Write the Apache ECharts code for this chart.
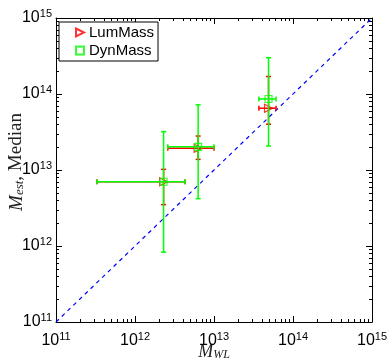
<!DOCTYPE html>
<html><head><meta charset="utf-8">
<script src="https://cdn.jsdelivr.net/npm/echarts@6/dist/echarts.min.js"></script>
<style>html,body{margin:0;padding:0;background:#fff}#c{width:388px;height:360px}</style>
</head><body><div id="c"></div>
<script>
// Data
const wlMass = [2.3e12, 6.3e12, 4.9e13];
const wlLo   = [3.3e11, 2.6e12, 3.7e13];
const wlHi   = [4.3e12, 1.0e13, 6.1e13];
const lumEst = [7.0e12, 1.93e13, 6.5e13];
const lumLo  = [3.5e12, 1.38e13, 4.0e13];
const lumHi  = [1.02e13, 2.8e13, 1.7e14];
const dynEst = [7.0e12, 2.02e13, 8.6e13];
const dynLo  = [8.3e11, 4.2e12, 2.07e13];
const dynHi  = [3.2e13, 7.2e13, 3.0e14];
const axisMin = 1e11, axisMax = 1e15;
const seriesNames = ['LumMass', 'DynMass'];

const chart = echarts.init(document.getElementById('c'));
const FONT = 'Liberation Sans';
const SERIF = 'Liberation Serif';
function expLabel(v){ const e = Math.round(Math.log10(v)); return '{b|10}{s|' + e + '}'; }
const labelRich = { b:{fontSize:16, fontFamily:FONT, color:'#000'}, s:{fontSize:11, fontFamily:FONT, color:'#000', padding:[0,0,9,0]} };

function errSeries(name, est, lo, hi, color, z){
  const data = wlMass.map((x,i)=>[x, est[i], wlLo[i], wlHi[i], lo[i], hi[i]]);
  return {
    type:'custom', name: name + '_err', z: z, silent:true,
    data: data, encode:{x:0, y:1},
    renderItem: function(params, api){
      const x=api.value(0), y=api.value(1);
      const c=api.coord([x,y]);
      const xl=api.coord([api.value(2),y])[0], xh=api.coord([api.value(3),y])[0];
      const yl=api.coord([x,api.value(4)])[1], yh=api.coord([x,api.value(5)])[1];
      const st={stroke:color, lineWidth:1.5, fill:null};
      const cp=2.5;
      return {type:'group', children:[
        {type:'line', shape:{x1:xl,y1:c[1],x2:xh,y2:c[1]}, style:st},
        {type:'line', shape:{x1:c[0],y1:yl,x2:c[0],y2:yh}, style:st},
        {type:'line', shape:{x1:xl,y1:c[1]-cp,x2:xl,y2:c[1]+cp}, style:st},
        {type:'line', shape:{x1:xh,y1:c[1]-cp,x2:xh,y2:c[1]+cp}, style:st},
        {type:'line', shape:{x1:c[0]-cp,y1:yl,x2:c[0]+cp,y2:yl}, style:st},
        {type:'line', shape:{x1:c[0]-cp,y1:yh,x2:c[0]+cp,y2:yh}, style:st}
      ]};
    }
  };
}

// minor tick values
const minorVals = [];
for (let e=11; e<15; e++) for (let m=2; m<=9; m++) minorVals.push(m*Math.pow(10,e));

const option = {
  animation:false,
  grid:{left:56, right:16, top:18, bottom:38, show:false, containLabel:false, outerBoundsMode:'none'},
  legend:{
    left:59, top:22, orient:'vertical', padding:[3,4,3,16], itemGap:3,
    borderColor:'#000', borderWidth:1, backgroundColor:'#fff',
    itemWidth:8, itemHeight:8,
    textStyle:{fontSize:15, fontFamily:FONT, color:'#000'},
    data: seriesNames
  },
  xAxis:[{
    type:'log', logBase:10, min:axisMin, max:axisMax, gridIndex:0,
    axisLine:{show:true, onZero:false, lineStyle:{color:'#000', width:1}},
    axisTick:{show:true, inside:true, length:6, lineStyle:{color:'#000'}},
    splitLine:{show:false},
    axisLabel:{formatter:expLabel, rich:labelRich, margin:9, showMaxLabel:true, showMinLabel:true},
    name:'{i|M}{sub|WL}', nameLocation:'middle', nameGap:21, nameMoveOverlap:false,
    nameTextStyle:{rich:{i:{fontSize:18, fontFamily:SERIF, fontStyle:'italic', color:'#222'}, sub:{fontSize:12, fontFamily:SERIF, fontStyle:'italic', color:'#222', padding:[6,0,0,0]}}}
  },{
    type:'log', logBase:10, min:axisMin, max:axisMax, position:'top',
    axisLine:{show:true, onZero:false, lineStyle:{color:'#000'}},
    axisTick:{show:true, inside:true, length:6, lineStyle:{color:'#000'}},
    axisLabel:{show:false}, splitLine:{show:false}
  }],
  yAxis:[{
    type:'log', logBase:10, min:axisMin, max:axisMax,
    axisLine:{show:true, onZero:false, lineStyle:{color:'#000', width:1}},
    axisTick:{show:true, inside:true, length:6, lineStyle:{color:'#000'}},
    splitLine:{show:false},
    axisLabel:{formatter:expLabel, rich:labelRich, margin:4, showMaxLabel:true, showMinLabel:true},
    name:'{i|M}{sub|est}{r|, Median}', nameLocation:'middle', nameGap:30, nameRotate:90, nameMoveOverlap:false,
    nameTextStyle:{padding:[0,0,0,16], rich:{i:{fontSize:19, fontFamily:SERIF, fontStyle:'italic', color:'#222'}, sub:{fontSize:13, fontFamily:SERIF, fontStyle:'italic', color:'#222', padding:[6,0,0,0]}, r:{fontSize:19, fontFamily:SERIF, color:'#222'}}}
  },{
    type:'log', logBase:10, min:axisMin, max:axisMax, position:'right',
    axisLine:{show:true, onZero:false, lineStyle:{color:'#000'}},
    axisTick:{show:true, inside:true, length:6, lineStyle:{color:'#000'}},
    axisLabel:{show:false}, splitLine:{show:false}
  }],
  series:[
    {
      type:'line', name:'diag', data:[[axisMin,axisMin],[axisMax,axisMax]], symbol:'none', silent:true, z:1,
      lineStyle:{color:'#0000ff', width:1.2, type:[4,4]}
    },
    {
      type:'custom', name:'minor', silent:true, z:1, data:[[axisMin,axisMin]], encode:{x:0,y:1},
      renderItem:function(params, api){
        const cs=params.coordSys; const ch=[]; const L=3; const st={stroke:'#000', lineWidth:1};
        minorVals.forEach(v=>{
          const px=Math.round(api.coord([v,axisMin])[0])+0.5;
          ch.push({type:'line', shape:{x1:px,y1:cs.y+cs.height,x2:px,y2:cs.y+cs.height-L}, style:st});
          ch.push({type:'line', shape:{x1:px,y1:cs.y,x2:px,y2:cs.y+L}, style:st});
          const py=Math.round(api.coord([axisMin,v])[1])+0.5;
          ch.push({type:'line', shape:{x1:cs.x,y1:py,x2:cs.x+L,y2:py}, style:st});
          ch.push({type:'line', shape:{x1:cs.x+cs.width,y1:py,x2:cs.x+cs.width-L,y2:py}, style:st});
        });
        return {type:'group', children:ch};
      }
    },
    errSeries('LumMass', lumEst, lumLo, lumHi, '#ff0000', 2),
    {
      type:'scatter', name:'LumMass', z:3, data: wlMass.map((x,i)=>[x, lumEst[i]]),
      symbol:'path://M0,0L10,5L0,10Z', symbolSize:8,
      itemStyle:{color:'rgba(255,255,255,0)', borderColor:'#ff0000', borderWidth:1.2}
    },
    errSeries('DynMass', dynEst, dynLo, dynHi, '#00ff00', 4),
    {
      type:'scatter', name:'DynMass', z:5, data: wlMass.map((x,i)=>[x, dynEst[i]]),
      symbol:'rect', symbolSize:7,
      itemStyle:{color:'rgba(255,255,255,0)', borderColor:'#00ff00', borderWidth:1.2}
    }
  ]
};
chart.setOption(option);
</script></body></html>
